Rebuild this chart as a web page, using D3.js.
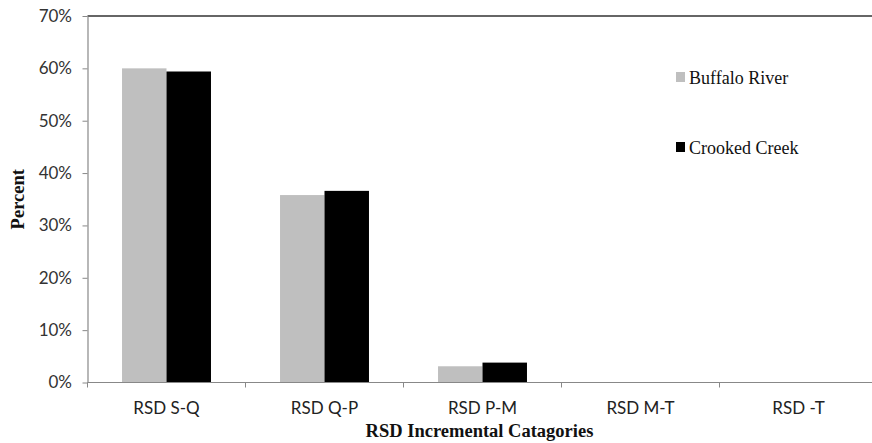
<!DOCTYPE html>
<html>
<head>
<meta charset="utf-8">
<script src="https://cdn.jsdelivr.net/npm/d3@7"></script>
<style>
  html, body { margin: 0; padding: 0; background: #fff; }
  svg { display: block; }
</style>
</head>
<body>
<svg></svg>
<script>
// chart data
let categories = ["RSD S-Q", "RSD Q-P", "RSD P-M", "RSD M-T", "RSD -T"];
let seriesNames = ["Buffalo River", "Crooked Creek"];
let buffaloRiver = [0.600, 0.358, 0.031, 0, 0];
let crookedCreek = [0.594, 0.366, 0.038, 0, 0];
let yTicks = [0, 0.1, 0.2, 0.3, 0.4, 0.5, 0.6, 0.7];
let colors = ["#bfbfbf", "#000000"];

let width = 872;
let height = 443;
let plotLeft = 87.5;
let plotRight = 877.5;
let plotTop = 16;
let plotBottom = 382.5;

let svg = d3.select("svg")
    .attr("width", width)
    .attr("height", height);

// one row per category, one value per series
let rows = categories.map((c, i) => ({ cat: c, values: [buffaloRiver[i], crookedCreek[i]] }));

let xScale = d3.scaleBand()
    .domain(categories)
    .range([plotLeft, plotRight])
    .paddingInner(0.437)
    .paddingOuter(0.2185);

let xSub = d3.scaleBand()
    .domain(d3.range(seriesNames.length))
    .range([0, xScale.bandwidth()]);

let yScale = d3.scaleLinear()
    .domain([0, 0.7])
    .range([plotBottom, plotTop]);

// bars
svg.append("g")
    .selectAll("g")
    .data(rows)
    .enter()
    .append("g")
    .attr("transform", (d) => "translate(" + xScale(d.cat) + ",0)")
    .selectAll("rect")
    .data((d) => d.values)
    .enter()
    .append("rect")
    .attr("x", (v, i) => xSub(i))
    .attr("width", xSub.bandwidth())
    .attr("y", (v) => yScale(v))
    .attr("height", (v) => plotBottom - yScale(v))
    .attr("fill", (v, i) => colors[i]);

// top border of the plot area
svg.append("line")
    .attr("x1", plotLeft).attr("x2", width)
    .attr("y1", plotTop).attr("y2", plotTop)
    .attr("stroke", "#333")
    .attr("stroke-width", 1.5);

// y axis
let yAxis = d3.axisLeft(yScale)
    .tickValues(yTicks)
    .tickFormat(d3.format(".0%"))
    .tickSize(5)
    .tickSizeOuter(0)
    .tickPadding(10.5);

let yG = svg.append("g")
    .attr("transform", "translate(" + plotLeft + ",0)")
    .call(yAxis);
yG.select(".domain").attr("stroke", "#888").attr("stroke-width", 1.2);
yG.selectAll(".tick line").attr("stroke", "#888");
yG.selectAll("text")
    .attr("font-family", "Lato, sans-serif")
    .attr("font-size", 17)
    .attr("fill", "#333");

// x axis, labels in the middle of each band
let xAxis = d3.axisBottom(xScale)
    .tickSize(0)
    .tickSizeOuter(0);

let xG = svg.append("g")
    .attr("transform", "translate(0," + plotBottom + ")")
    .call(xAxis);
xG.select(".domain").attr("d", "M" + plotLeft + ",0H" + width).attr("stroke", "#888").attr("stroke-width", 1.2);
xG.selectAll("text")
    .attr("y", 31.5)
    .attr("dy", null)
    .attr("font-family", "Lato, sans-serif")
    .attr("font-size", 17)
    .attr("fill", "#222");

// tick marks sit between the bands
let gap = xScale.step() * xScale.paddingInner() / 2;
xG.selectAll(".sep")
    .data(categories)
    .enter()
    .append("line")
    .attr("class", "sep")
    .attr("x1", (c) => xScale(c) - gap)
    .attr("x2", (c) => xScale(c) - gap)
    .attr("y1", 0)
    .attr("y2", 5)
    .attr("stroke", "#888");

// axis titles
svg.append("text")
    .attr("x", (plotLeft + plotRight) / 2 - 3)
    .attr("y", 436.5)
    .attr("text-anchor", "middle")
    .attr("font-family", "'Liberation Serif', serif")
    .attr("font-weight", "bold")
    .attr("font-size", 18.5)
    .attr("fill", "#111")
    .text("RSD Incremental Catagories");

svg.append("text")
    .attr("transform", "translate(24," + ((plotTop + plotBottom) / 2) + ") rotate(-90)")
    .attr("text-anchor", "middle")
    .attr("font-family", "'Liberation Serif', serif")
    .attr("font-weight", "bold")
    .attr("font-size", 18.5)
    .attr("fill", "#111")
    .text("Percent");

// legend
let legend = svg.append("g")
    .selectAll("g")
    .data(seriesNames)
    .enter()
    .append("g")
    .attr("transform", (d, i) => "translate(676," + (72 + i * 70) + ")");

legend.append("rect")
    .attr("width", 9)
    .attr("height", 10)
    .attr("fill", (d, i) => colors[i]);

legend.append("text")
    .attr("x", 13)
    .attr("y", 11.5)
    .attr("font-family", "'Liberation Serif', serif")
    .attr("font-size", 18)
    .attr("fill", "#111")
    .text((d) => d);
</script>
</body>
</html>
